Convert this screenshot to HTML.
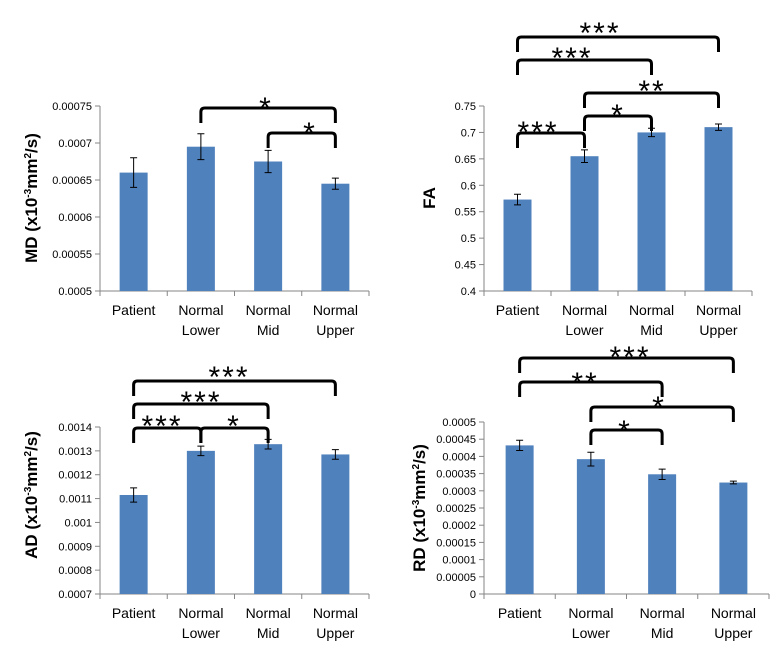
<!DOCTYPE html>
<html><head><meta charset="utf-8"><style>
body{margin:0;background:#fff;width:784px;height:652px;overflow:hidden;font-family:"Liberation Sans",sans-serif}
svg{display:block}
</style></head><body>
<svg id="s" width="784" height="652"></svg>
<script>
const categories=["Patient","Normal|Lower","Normal|Mid","Normal|Upper"];
const mdValues=[0.00066,0.000695,0.000675,0.000645];
const mdErrors=[0.00002,0.0000175,0.000015,0.0000075];
const mdTicks=["0.0005","0.00055","0.0006","0.00065","0.0007","0.00075"];
const faValues=[0.573,0.655,0.70,0.71];
const faErrors=[0.01,0.012,0.008,0.006];
const faTicks=["0.4","0.45","0.5","0.55","0.6","0.65","0.7","0.75"];
const adValues=[0.001115,0.0013,0.001328,0.001285];
const adErrors=[0.00003,0.00002,0.00002,0.00002];
const adTicks=["0.0007","0.0008","0.0009","0.001","0.0011","0.0012","0.0013","0.0014"];
const rdValues=[0.000432,0.000392,0.000348,0.000324];
const rdErrors=[0.000015,0.00002,0.000015,0.000004];
const rdTicks=["0","0.00005","0.0001","0.00015","0.0002","0.00025","0.0003","0.00035","0.0004","0.00045","0.0005"];
// brackets: [fromIdx,toIdx,topY,label,labelX,labelY]
const mdBr=[[1,3,108,"*",266,106],[2,3,133,"*",310,131]];
const faBr=[[0,3,37,"***",600,31],[0,2,60,"***",572,56],[1,3,93,"**",652,89],[1,2,116,"*",618,113],[0,1,133,"***",538,130]];
const adBr=[[0,3,381,"***",229,375],[0,2,404,"***",201,400],[0,1,428,"***",162,424],[1,2,428,"*",234,424]];
const rdBr=[[0,3,358,"***",630,355],[0,2,382,"**",585,381],[1,3,407,"*",659,405],[1,2,430,"*",625,429]];
const NS="http://www.w3.org/2000/svg",S=document.getElementById('s');
function mk(t,a,p){const e=document.createElementNS(NS,t);for(const k in a)e.setAttribute(k,a[k]);(p||S).appendChild(e);return e;}
function chart(name,o){
 const g=mk('g',{});
 
 
 const n=o.ticks.length,min=+o.ticks[0],max=+o.ticks[n-1];
 const y=v=>o.y1+(max-v)/(max-min)*(o.y0-o.y1);
 const cw=(o.x1-o.x0)/4,cx=i=>o.x0+cw*(i+0.5);
 const ax=mk('line',{x1:o.x0,y1:o.y1,x2:o.x0,y2:o.y0,stroke:'#868686'},g);
 
 const bx=mk('line',{x1:o.x0,y1:o.y0,x2:o.x1,y2:o.y0,stroke:'#868686'},g);
 
 o.ticks.forEach(t=>{const yy=y(+t);mk('line',{x1:o.x0-5,y1:yy,x2:o.x0,y2:yy,stroke:'#868686'},g);
  const tx=mk('text',{x:o.x0-8,y:yy+4,'text-anchor':'end','font-size':11,fill:'#000'},g);tx.textContent=t;
  });
 for(let i=0;i<=4;i++)mk('line',{x1:o.x0+cw*i,y1:o.y0,x2:o.x0+cw*i,y2:o.y0+5,stroke:'#868686'},g);
 categories.forEach((c,i)=>{const parts=c.split('|');parts.forEach((p,j)=>{
  const tx=mk('text',{x:cx(i),y:o.y0+24+j*20,'text-anchor':'middle','font-size':14,fill:'#000'},g);tx.textContent=p;
  });});
 o.values.forEach((v,i)=>{const bw=28,yt=y(v);
  const r=mk('rect',{x:cx(i)-bw/2,y:yt,width:bw,height:o.y0-yt,fill:'#4f81bd'},g);
  
  const e=o.errors[i],a=y(v+e),b=y(v-e),X=cx(i);
  const eb=mk('path',{d:`M${X} ${a}V${b}M${X-3.5} ${a}H${X+3.5}M${X-3.5} ${b}H${X+3.5}`,stroke:'#000','stroke-width':1,fill:'none'},g);
  });
 o.br.forEach(b=>{const xa=cx(b[0]),xb=cx(b[1]),t=b[2],d=15;
  const p=mk('path',{d:`M${xa} ${t+d}V${t+4}Q${xa} ${t} ${xa+4} ${t}H${xb-4}Q${xb} ${t} ${xb} ${t+4}V${t+d}`,stroke:'#000','stroke-width':3,fill:'none'},g);
  
  const tx=mk('text',{x:b[4],y:b[5]+12,'text-anchor':'middle','font-size':30,'letter-spacing':2,fill:'#000'},g);tx.textContent=b[3];
  });
 const tt=mk('text',{transform:`translate(${o.tx},${o.ty}) rotate(-90)`,'text-anchor':'middle','font-size':17,'font-weight':'bold',fill:'#000'},g);
 tt.innerHTML=o.title;
 
}
const T='(x10<tspan dy="-6" font-size="10">-3</tspan><tspan dy="6">mm</tspan><tspan dy="-6" font-size="10">2</tspan><tspan dy="6">/s)</tspan>';
chart('md',{x0:100,x1:369,y1:106,y0:291,ticks:mdTicks,values:mdValues,errors:mdErrors,br:mdBr,tx:37,ty:198,title:'MD '+T});
chart('fa',{x0:484,x1:752,y1:106,y0:291,ticks:faTicks,values:faValues,errors:faErrors,br:faBr,tx:435,ty:198,title:'FA'});
chart('ad',{x0:100,x1:369,y1:427,y0:594,ticks:adTicks,values:adValues,errors:adErrors,br:adBr,tx:37,ty:495,title:'AD '+T});
chart('rd',{x0:484,x1:769,y1:422,y0:594,ticks:rdTicks,values:rdValues,errors:rdErrors,br:rdBr,tx:425,ty:508,title:'RD '+T});
</script>
</body></html>
